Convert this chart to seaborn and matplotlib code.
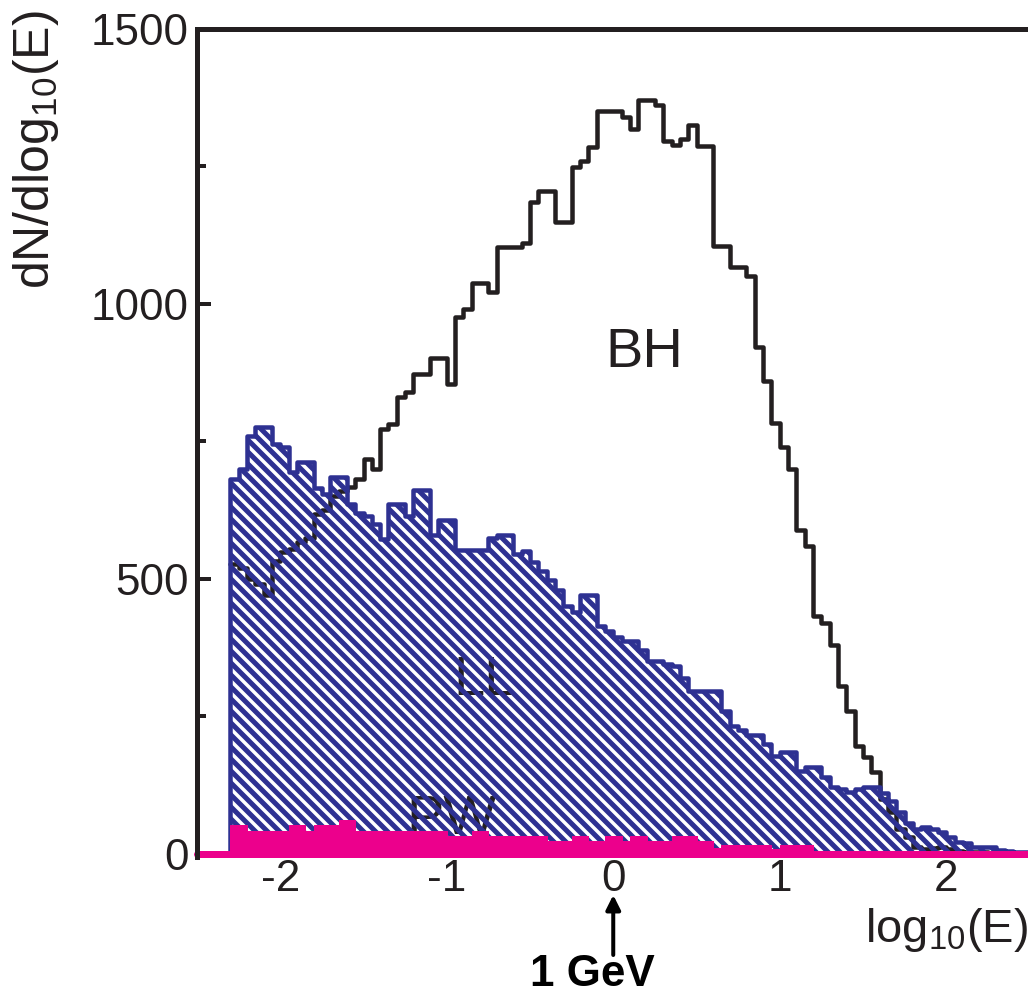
import numpy as np
import pandas as pd
import matplotlib
matplotlib.use("Agg")
import matplotlib.pyplot as plt
import seaborn as sns

# ---------------- data ----------------
BIN_START = -2.30
BIN_WIDTH = 0.05

bh_counts = [527, 520, 500, 490, 470, 533, 549, 555, 567, 575,
             618, 625, 650, 660, 667, 682, 718, 700, 773, 782,
             830, 840, 873, 873, 902, 902, 855, 976, 990, 1038,
             1038, 1022, 1104, 1104, 1104, 1110, 1185, 1205, 1205, 1149,
             1149, 1249, 1260, 1285, 1351, 1351, 1351, 1340, 1318, 1371,
             1371, 1362, 1296, 1289, 1300, 1325, 1287, 1287, 1105, 1105,
             1067, 1067, 1050, 922, 860, 784, 740, 700, 589, 560,
             433, 420, 380, 305, 260, 195, 176, 149, 100, 75,
             45, 30, 13, 8, 10, 13, 8, 5, 4, 3,
             3, 2, 2, 1, 1, 0]

ll_counts = [682, 700, 760, 776, 776, 745, 740, 694, 713, 713,
             665, 655, 685, 685, 636, 620, 615, 600, 573, 636,
             636, 615, 662, 662, 580, 607, 607, 553, 553, 553,
             553, 575, 580, 580, 545, 550, 530, 515, 498, 480,
             451, 440, 471, 471, 415, 405, 395, 387, 387, 370,
             350, 350, 345, 342, 320, 296, 296, 296, 296, 260,
             233, 225, 215, 215, 200, 178, 185, 185, 150, 158,
             158, 140, 122, 118, 113, 118, 122, 122, 110, 95,
             75, 55, 45, 49, 45, 40, 30, 22, 20, 13,
             13, 13, 6, 5, 4, 3]

pw_counts = [53, 53, 42, 42, 42, 42, 42, 53, 53, 42,
             53, 53, 53, 62, 62, 42, 42, 42, 42, 42,
             42, 42, 42, 42, 42, 42, 33, 33, 33, 42,
             42, 33, 33, 33, 33, 33, 33, 33, 24, 24,
             24, 33, 33, 24, 24, 33, 33, 24, 33, 33,
             24, 24, 24, 33, 33, 33, 24, 24, 10, 15,
             15, 15, 15, 15, 15, 8, 15, 15, 15, 15,
             4, 3, 3, 3, 2, 3, 2, 2, 2, 2,
             2, 1, 1, 1, 1, 1, 1, 1, 1, 1,
             1, 1, 0, 0, 0, 0]

x_ticks = [-2, -1, 0, 1, 2]
y_ticks = [0, 500, 1000, 1500]
y_minor = [250, 750, 1250]
series_labels = {"BH": (-0.05, 885), "LL": (-0.96, 289), "PW": (-1.24, 35)}

assert len(bh_counts) == len(ll_counts) == len(pw_counts)
n_bins = len(bh_counts)
edges = (BIN_START + BIN_WIDTH * np.arange(n_bins + 1)).tolist()
centers = [BIN_START + BIN_WIDTH * (i + 0.5) for i in range(n_bins)]

df = pd.DataFrame({"log10E": centers, "BH": bh_counts, "LL": ll_counts,
                   "PW": pw_counts})

BLACK = "#231F20"
BLUE = "#2E3192"
MAGENTA = "#EC008C"

# ---------------- style ----------------
sns.set_style("white")
plt.rcParams["font.family"] = ["Liberation Sans", "DejaVu Sans"]
plt.rcParams["mathtext.fontset"] = "custom"
plt.rcParams["mathtext.rm"] = "Liberation Sans"
plt.rcParams["mathtext.it"] = "Liberation Sans:italic"
plt.rcParams["mathtext.bf"] = "Liberation Sans:bold"
plt.rcParams["hatch.color"] = BLUE
plt.rcParams["hatch.linewidth"] = 5.0

DPI = 72
fig = plt.figure(figsize=(1028 / DPI, 998 / DPI), dpi=DPI)
ax = fig.add_axes([197 / 1028, 1 - 857 / 998, 832.5 / 1028, (857 - 29) / 998])

# BH: black step outline (under the hatching)
n_before = len(ax.lines)
sns.histplot(data=df, x="log10E", weights="BH", bins=edges, element="step",
             fill=False, color=BLACK, linewidth=4.5, ax=ax)
for ln in ax.lines[n_before:]:
    ln.set_zorder(1)

# LL: hatched, blue outline
n_before = len(ax.collections)
sns.histplot(data=df, x="log10E", weights="LL", bins=edges, element="step",
             fill=True, color=BLUE, alpha=1, linewidth=4.5, ax=ax)
for ll_poly in ax.collections[n_before:]:
    ll_poly.set_facecolor("none")
    ll_poly.set_edgecolor(BLUE)
    ll_poly.set_hatch("\\\\")
    ll_poly.set_linewidth(4.5)
    ll_poly.set_zorder(3)

# PW: filled magenta
n_before = len(ax.collections)
sns.histplot(data=df, x="log10E", weights="PW", bins=edges, element="step",
             fill=True, color=MAGENTA, alpha=1, linewidth=1, ax=ax)
for pw_poly in ax.collections[n_before:]:
    pw_poly.set_facecolor(MAGENTA)
    pw_poly.set_edgecolor(MAGENTA)
    pw_poly.set_zorder(4)

ax.axhline(0, color=MAGENTA, linewidth=7, zorder=5, clip_on=False)

# in-plot labels
for name, (lx, ly) in series_labels.items():
    ax.text(lx, ly, name, fontsize=56, color=BLACK, ha="left", va="baseline",
            zorder=2)

# axes formatting
ax.set_xlim(-2.5, 2.5)
ax.set_ylim(-6, 1500)
ax.set_xticks(x_ticks)
ax.set_xticklabels([str(v) for v in x_ticks])
ax.set_yticks(y_ticks)
ax.set_yticks(y_minor, minor=True)
ax.set_yticklabels([str(v) for v in y_ticks])
ax.set_xlabel("")
ax.set_ylabel("")
ax.tick_params(axis="y", which="major", direction="in", length=14, width=4,
               labelsize=44, pad=8, colors=BLACK, left=True)
ax.tick_params(axis="y", which="minor", direction="in", length=9, width=4,
               colors=BLACK, left=True)
ax.tick_params(axis="x", which="both", length=0, labelsize=44, pad=2,
               colors=BLACK)
for side in ["right", "bottom"]:
    ax.spines[side].set_visible(False)
for side in ["left", "top"]:
    ax.spines[side].set_visible(True)
    ax.spines[side].set_linewidth(5)
    ax.spines[side].set_color(BLACK)
    ax.spines[side].set_zorder(10)

# axis titles
fig.text(36 / 1028, 1 - 10 / 998, r"dN/dlog$_{10}$(E)", rotation=90,
         ha="center", va="top", fontsize=50, color=BLACK)
fig.text(1.0, 1 - 942 / 998, r"log$_{10}$(E)", ha="right", va="baseline",
         fontsize=47, color=BLACK)

# 1 GeV arrow
ax.annotate("", xy=(0.0, 1 - 895 / 998), xycoords=("data", "figure fraction"),
            xytext=(0.0, 1 - 955 / 998), textcoords=("data", "figure fraction"),
            arrowprops=dict(arrowstyle="-|>", color="black", lw=4,
                            mutation_scale=30, shrinkA=0, shrinkB=0),
            annotation_clip=False)
fig.text(592 / 1028, 1 - 986 / 998, "1 GeV", ha="center", va="baseline",
         fontsize=44, fontweight="bold", color="black")

fig.savefig("out.png", dpi=DPI)
